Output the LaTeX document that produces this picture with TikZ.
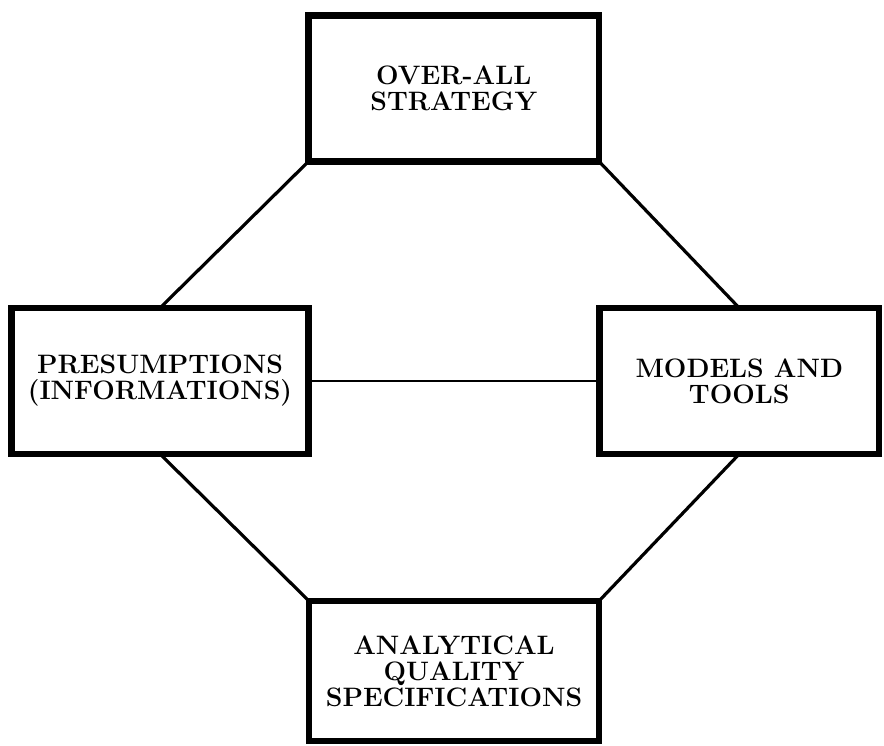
\documentclass[tikz,border=0pt]{standalone}
\usepackage{fontspec}
\begin{document}
\begin{tikzpicture}[x=0.75pt, y=-0.75pt,
    block/.style={draw, line width=5pt, outer sep=0pt, align=center,
        font=\fontsize{20}{19.5}\selectfont\bfseries},
    link/.style={line width=2.4pt}]
    \useasboundingbox (0,0) rectangle (884,745);
    % the four boxes
    \node[block, minimum width=218pt, minimum height=109.5pt] (strategy) at (453.75,88.5) {OVER-ALL\\STRATEGY};
    \node[block, minimum width=222.75pt, minimum height=109.5pt] (presumptions) at (160,381) {PRESUMPTIONS\\(INFORMATIONS)};
    \node[block, minimum width=209.6pt, minimum height=109.5pt] (models) at (739.25,381) {MODELS AND\\TOOLS};
    \node[block, minimum width=217.5pt, minimum height=105pt] (specs) at (454,671) {ANALYTICAL\\QUALITY\\SPECIFICATIONS};
    % links
    \draw[link] (strategy.south west) -- (presumptions.north);
    \draw[link] (strategy.south east) -- (models.north);
    \draw[link] (presumptions.south) -- (specs.north west);
    \draw[link] (models.south) -- (specs.north east);
    \draw[line width=1.6pt] (presumptions.east) -- (models.west);
\end{tikzpicture}
\end{document}
